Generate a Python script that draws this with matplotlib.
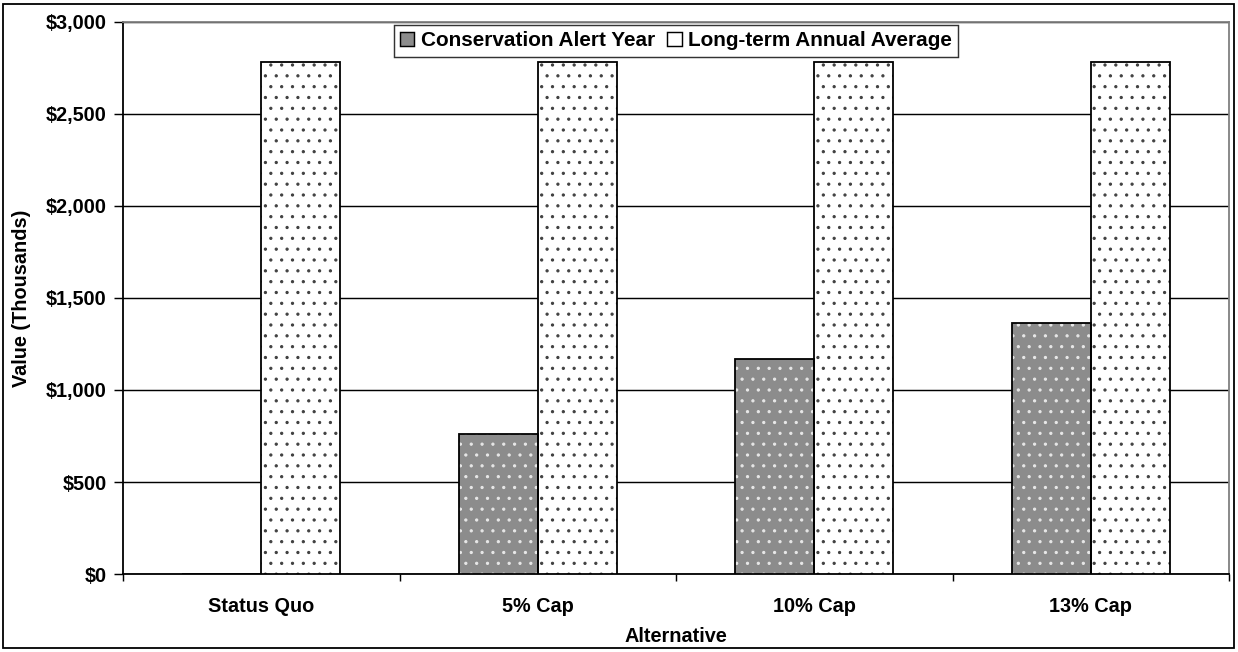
import matplotlib
matplotlib.use('Agg')
import matplotlib.pyplot as plt
import numpy as np
from matplotlib.patches import Patch, Rectangle
from matplotlib.ticker import FuncFormatter, MultipleLocator

categories = ['Status Quo', '5% Cap', '10% Cap', '13% Cap']
alert_year = [0, 760, 1170, 1365]
long_term = [2780, 2780, 2780, 2780]
series_names = ['Conservation Alert Year', 'Long-term Annual Average']

plt.rcParams['font.family'] = ['Liberation Sans', 'DejaVu Sans']
plt.rcParams['font.weight'] = 'bold'
plt.rcParams['hatch.linewidth'] = 0.6

DPI = 130
fig = plt.figure(figsize=(1238 / DPI, 652 / DPI), dpi=DPI)
ax = fig.add_axes([123 / 1238, 1 - 574 / 652, (1229 - 123) / 1238, (574 - 22) / 652])

x = np.arange(len(categories))
w = 0.286
grey = '#8c8c8c'

# fill + dotted hatch (hatch colour comes from edgecolor)
ax.bar(x - w / 2, alert_year, w, color=grey, edgecolor='#e8e8e8', hatch='..', linewidth=0, zorder=3)
ax.bar(x + w / 2, long_term, w, color='white', edgecolor='#404040', hatch='..', linewidth=0, zorder=3)
# outlines
ax.bar(x - w / 2, alert_year, w, fill=False, edgecolor='black', linewidth=1.0, zorder=4)
ax.bar(x + w / 2, long_term, w, fill=False, edgecolor='black', linewidth=1.0, zorder=4)

ax.set_xlim(-0.5, len(categories) - 0.5)
ax.set_ylim(0, 3000)
ax.yaxis.set_major_locator(MultipleLocator(500))
ax.yaxis.set_major_formatter(FuncFormatter(lambda v, p: '${:,.0f}'.format(v)))
ax.grid(axis='y', color='black', linewidth=0.8, zorder=0)
ax.set_axisbelow(True)

ax.set_xticks(x)
ax.set_xticklabels(categories, fontsize=11, fontweight='bold')
ax.set_xticks(np.arange(len(categories) + 1) - 0.5, minor=True)
ax.tick_params(axis='x', which='major', length=0, pad=13)
ax.tick_params(axis='x', which='minor', length=4, direction='out', width=0.8)
ax.tick_params(axis='y', length=5, width=0.8, pad=4, labelsize=11)
for lab in ax.get_yticklabels():
    lab.set_fontweight('bold')

ax.spines['left'].set_color('black')
ax.spines['bottom'].set_color('black')
ax.spines['top'].set_color('#808080')
ax.spines['right'].set_color('#808080')
for s in ax.spines.values():
    s.set_linewidth(1.0)

ax.set_xlabel('Alternative', fontsize=11, fontweight='bold', labelpad=6)
ax.set_ylabel('Value (Thousands)', fontsize=11, fontweight='bold', labelpad=8)

handles = [Patch(facecolor=grey, edgecolor='black', linewidth=0.8),
           Patch(facecolor='white', edgecolor='black', linewidth=0.8)]
leg = ax.legend(handles, series_names, loc='upper center', bbox_to_anchor=(0.5, 1.0),
                ncol=2, fontsize=11.5, frameon=True, fancybox=False, edgecolor='black',
                handlelength=0.7, handleheight=0.7, handletextpad=0.3, columnspacing=0.6,
                borderpad=0.3, borderaxespad=0.15)
leg.get_frame().set_linewidth(0.8)
leg.set_zorder(5)

fig.patches.append(Rectangle((3 / 1238, 4 / 652), 1231 / 1238, 644 / 652, transform=fig.transFigure,
                             fill=False, edgecolor='black', linewidth=1.0))

fig.savefig('out.png', dpi=DPI)
